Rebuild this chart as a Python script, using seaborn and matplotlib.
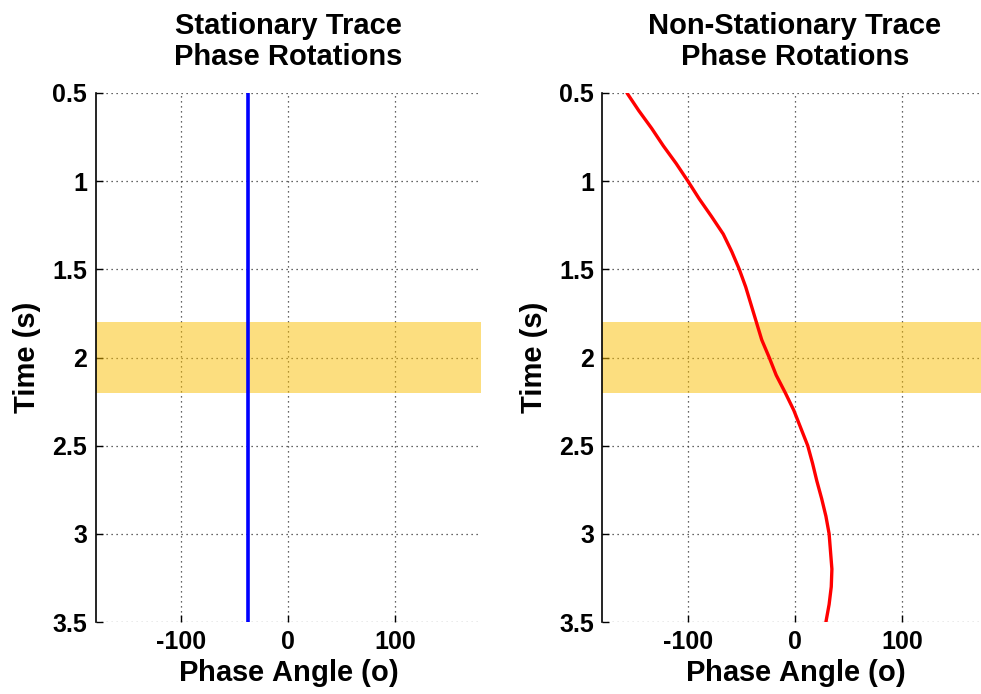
import numpy as np
import pandas as pd
import matplotlib
matplotlib.use("Agg")
import matplotlib.pyplot as plt
from matplotlib.ticker import FormatStrFormatter
import seaborn as sns

# Phase rotation of the stationary trace (constant with time)
stationary_time = [0.5, 3.5]
stationary_phase = [-37, -37]

# Phase rotation of the non-stationary trace
nonstat_time = [0.5, 0.6, 0.7, 0.8, 0.9, 1.0, 1.1, 1.2, 1.3, 1.4, 1.5, 1.6,
                1.7, 1.8, 1.9, 2.0, 2.1, 2.2, 2.3, 2.4, 2.5, 2.6, 2.7, 2.8,
                2.9, 3.0, 3.1, 3.2, 3.3, 3.4, 3.5]
nonstat_phase = [-157, -146, -134, -123, -111, -100, -89.5, -78, -67, -59,
                 -52, -46, -41, -36, -31, -24, -17.5, -9, -1, 5.5, 12, 16.5,
                 20.5, 25, 29, 32, 33.3, 34.6, 34, 32, 29]

# Highlighted time window
window = (1.8, 2.2)

x_ticks = [-100, 0, 100]
y_ticks = [0.5, 1.0, 1.5, 2.0, 2.5, 3.0, 3.5]

titles = ["Stationary Trace\nPhase Rotations", "Non-Stationary Trace\nPhase Rotations"]

sns.set_style("white")
plt.rcParams["font.family"] = ["Liberation Sans", "DejaVu Sans"]
plt.rcParams["font.weight"] = "bold"
plt.rcParams["text.color"] = "black"
plt.rcParams["axes.labelcolor"] = "black"
plt.rcParams["axes.unicode_minus"] = False

W, H = 981, 694
fig = plt.figure(figsize=(W / 100, H / 100), dpi=100)
ax_w, ax_h = 385 / W, 529 / H
ax_b = 72 / H
ax1 = fig.add_axes([95.5 / W, ax_b, ax_w, ax_h])
ax2 = fig.add_axes([602.4 / W, ax_b, ax_w, ax_h])

df_s = pd.DataFrame({"phase": stationary_phase, "time": stationary_time})
df_n = pd.DataFrame({"phase": nonstat_phase, "time": nonstat_time})

sns.lineplot(data=df_s, x="phase", y="time", sort=False, estimator=None,
             color="#0000FF", lw=2.6, ax=ax1, zorder=3)
sns.lineplot(data=df_n, x="phase", y="time", sort=False, estimator=None,
             color="#FF0000", lw=2.4, ax=ax2, zorder=3)

for ax, title in zip([ax1, ax2], titles):
    ax.axhspan(window[0], window[1], color="#FBBF00", alpha=0.5, lw=0, zorder=2)
    ax.set_xlim(-180, 180)
    ax.set_ylim(3.5, 0.5)
    ax.set_xticks(x_ticks)
    ax.set_yticks(y_ticks)
    ax.yaxis.set_major_formatter(FormatStrFormatter("%g"))
    ax.grid(True, ls=(0, (1, 3)), color="#333333", lw=0.9)
    ax.set_axisbelow(True)
    for s in ["top", "right", "bottom"]:
        ax.spines[s].set_visible(False)
    ax.spines["left"].set_color("black")
    ax.spines["left"].set_linewidth(1.2)
    ax.tick_params(axis="both", direction="in", length=5, width=1,
                   labelsize=18, colors="black", pad=6,
                   left=True, bottom=True)
    for lbl in ax.get_xticklabels() + ax.get_yticklabels():
        lbl.set_fontweight("bold")
    ax.set_title(title, fontsize=21, fontweight="bold", pad=20,
                 linespacing=1.15, color="black")
    ax.set_xlabel(r"Phase Angle ($\mathregular{o}$)", fontsize=21,
                  fontweight="bold", labelpad=2)
    ax.set_ylabel("Time (s)", fontsize=21, fontweight="bold", labelpad=8)

fig.savefig("out.png", dpi=100, facecolor="white")
